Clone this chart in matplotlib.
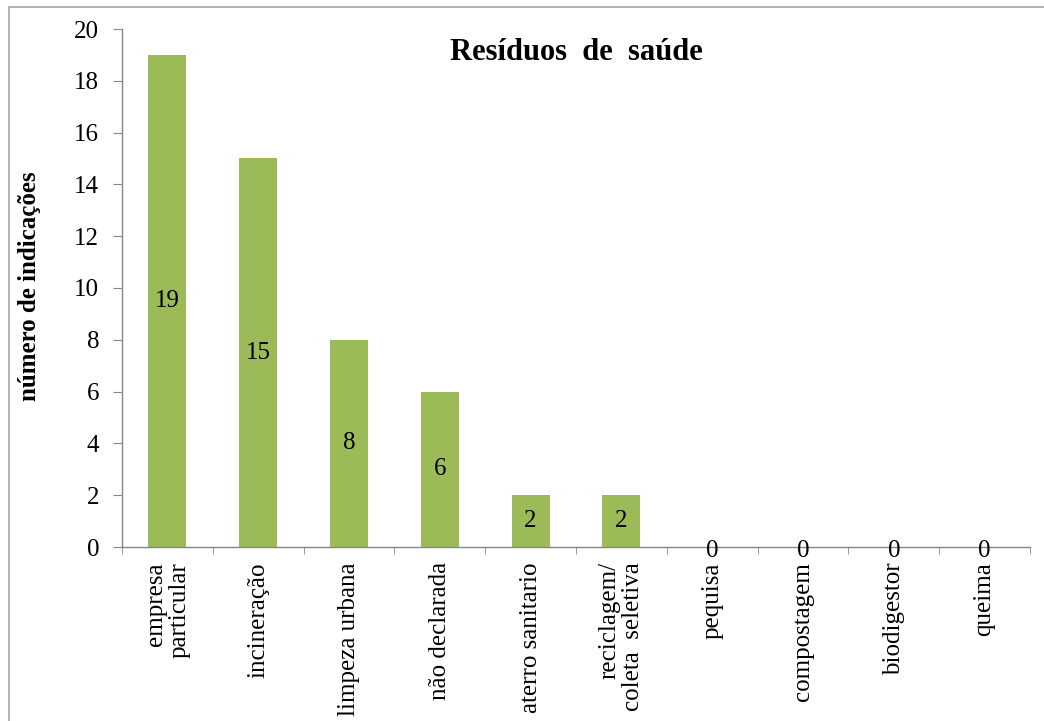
import matplotlib
matplotlib.use("Agg")
import matplotlib.pyplot as plt
from matplotlib.patches import Rectangle
from matplotlib.ticker import MultipleLocator, FixedLocator

categories = ["empresa\nparticular", "incineração", "limpeza urbana", "não declarada",
              "aterro sanitario", "reciclagem/\ncoleta  seletiva", "pequisa",
              "compostagem", "biodigestor", "queima"]
values = [19, 15, 8, 6, 2, 2, 0, 0, 0, 0]
title = "Resíduos  de  saúde"
ylabel = "número de indicações"

bar_color = "#9BBB59"
axis_color = "#868686"
font = "Liberation Serif"

plt.rcParams["font.family"] = [font, "DejaVu Serif"]

fig = plt.figure(figsize=(10.44, 7.21), dpi=100)
fig.patch.set_facecolor("white")

# outer chart frame
fig.patches.append(Rectangle((9 / 1044, -0.1), 1.2, 1 - 7 / 721 + 0.1,
                             transform=fig.transFigure, fill=False,
                             edgecolor="#A6A6A6", linewidth=1.2))

ax = fig.add_axes([122 / 1044, 1 - 547 / 721, (1030 - 122) / 1044, (547 - 29) / 721])
x = list(range(len(categories)))
ax.bar(x, values, width=0.42, color=bar_color, zorder=2)

ax.set_xlim(-0.5, len(categories) - 0.5)
ax.set_ylim(0, 20)
ax.yaxis.set_major_locator(MultipleLocator(2))

ax.set_xticks(x)
ax.set_xticklabels(categories, rotation=90, fontsize=18, va="top", ha="center",
                   multialignment="right", linespacing=1.1)
ax.xaxis.set_minor_locator(FixedLocator([i - 0.5 for i in range(len(categories) + 1)]))
ax.tick_params(axis="x", which="major", length=0, pad=11)
ax.tick_params(axis="x", which="minor", length=5, color=axis_color, direction="out")
ax.tick_params(axis="y", length=6.5, color=axis_color, direction="out", labelsize=18, pad=10)

for side in ("top", "right"):
    ax.spines[side].set_visible(False)
for side in ("left", "bottom"):
    ax.spines[side].set_color(axis_color)
    ax.spines[side].set_linewidth(1.0)

# value labels centred in each bar; zero values sit on the axis line
for xi, v in zip(x, values):
    if v > 0:
        ax.text(xi, v / 2, str(v), ha="center", va="center", fontsize=18, zorder=3)
    else:
        ax.annotate(str(v), (xi, v), xytext=(0, -3), textcoords="offset points",
                    ha="center", va="center", fontsize=18, zorder=3,
                    annotation_clip=False)

ax.text(0.5, 0.955, title, transform=ax.transAxes, ha="center", va="center",
        fontsize=22, fontweight="bold")

fig.text(30 / 1044, 1 - 286 / 721, ylabel, rotation=90, ha="center", va="center",
         fontsize=18, fontweight="bold")

fig.savefig("out.png", dpi=100, facecolor="white")
